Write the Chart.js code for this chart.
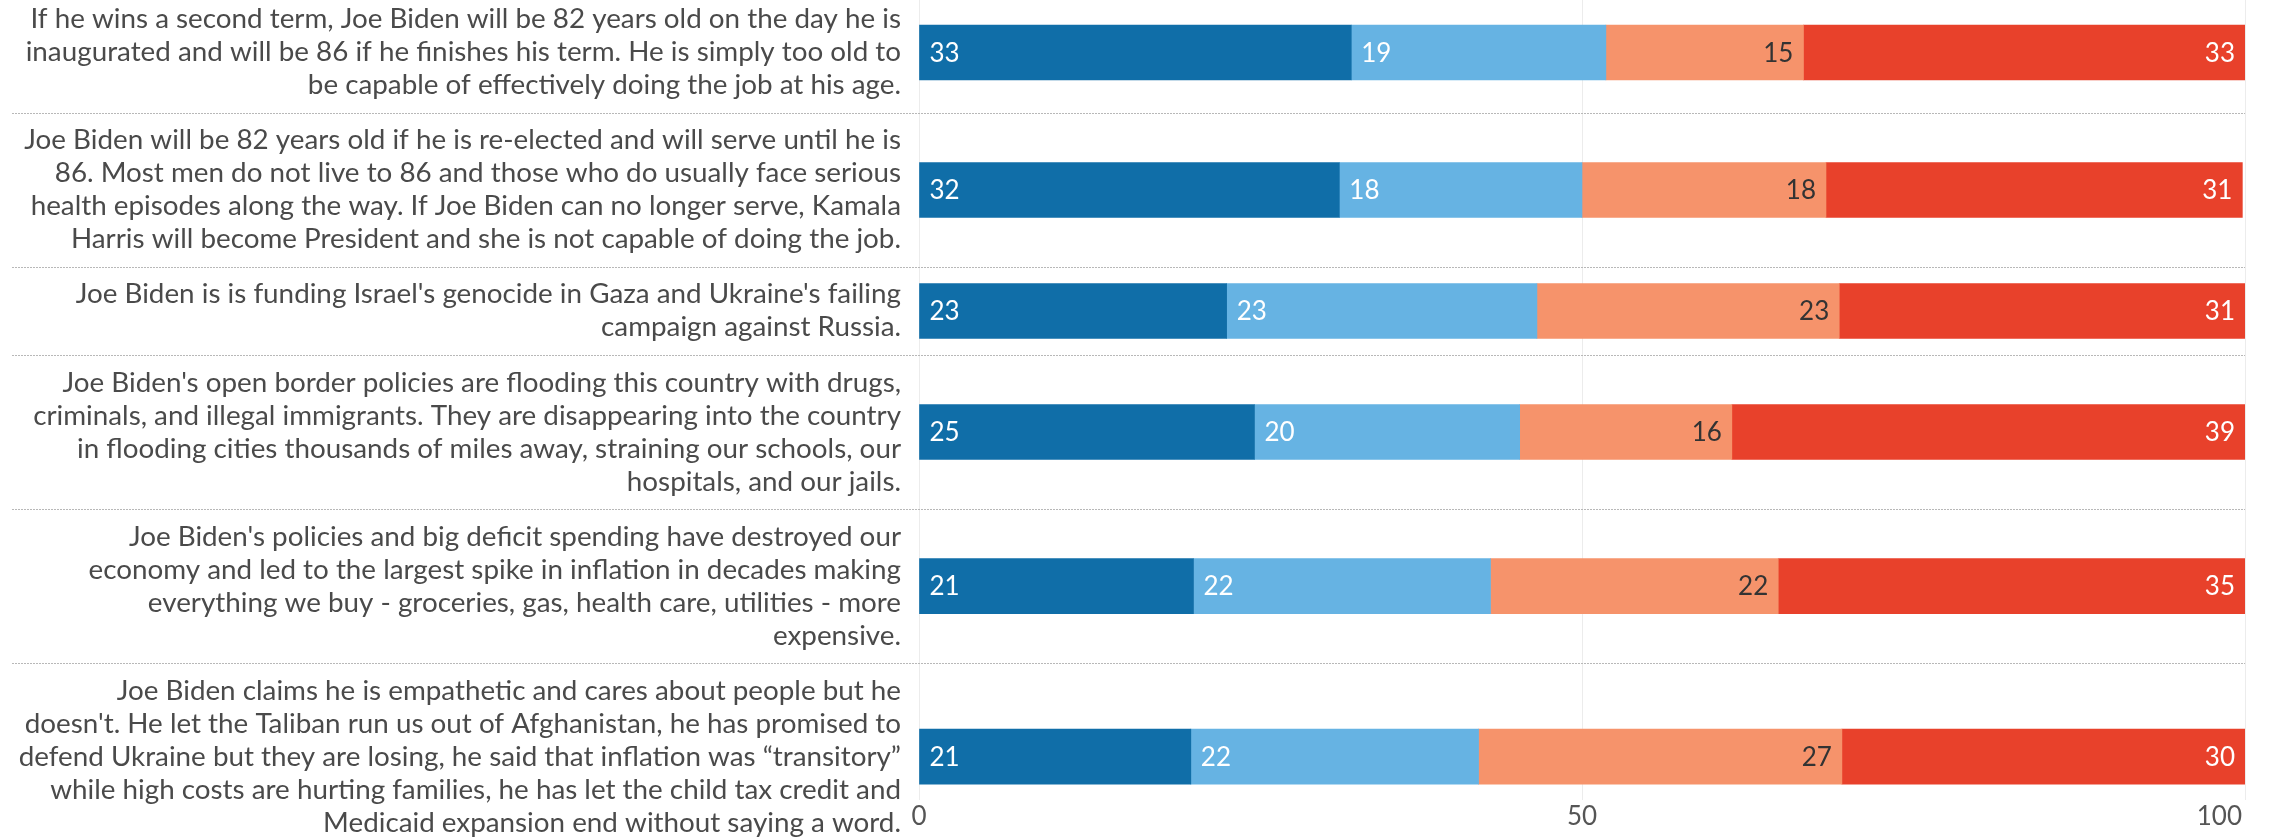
<!DOCTYPE html>
<html><head><meta charset="utf-8">
<script src="https://cdn.jsdelivr.net/npm/chart.js@4/dist/chart.umd.min.js"></script>
<style>html,body{margin:0;padding:0;background:#fff;overflow:hidden}</style>
</head><body>
<canvas id="c" width="2272" height="839"></canvas>
<script>
const categories = [
  ["If he wins a second term, Joe Biden will be 82 years old on the day he is",
   "inaugurated and will be 86 if he finishes his term. He is simply too old to",
   "be capable of effectively doing the job at his age."],
  ["Joe Biden will be 82 years old if he is re-elected and will serve until he is",
   "86. Most men do not live to 86 and those who do usually face serious",
   "health episodes along the way. If Joe Biden can no longer serve, Kamala",
   "Harris will become President and she is not capable of doing the job."],
  ["Joe Biden is is funding Israel's genocide in Gaza and Ukraine's failing",
   "campaign against Russia."],
  ["Joe Biden's open border policies are flooding this country with drugs,",
   "criminals, and illegal immigrants. They are disappearing into the country",
   "in flooding cities thousands of miles away, straining our schools, our",
   "hospitals, and our jails."],
  ["Joe Biden's policies and big deficit spending have destroyed our",
   "economy and led to the largest spike in inflation in decades making",
   "everything we buy - groceries, gas, health care, utilities - more",
   "expensive."],
  ["Joe Biden claims he is empathetic and cares about people but he",
   "doesn't. He let the Taliban run us out of Afghanistan, he has promised to",
   "defend Ukraine but they are losing, he said that inflation was \u201ctransitory\u201d",
   "while high costs are hurting families, he has let the child tax credit and",
   "Medicaid expansion end without saying a word."]
];
const seriesNames = ["Very convincing", "Somewhat convincing", "Not very convincing", "Not at all convincing"];
const seriesA = [32.6, 31.7, 23.2, 25.3, 20.7, 20.5];
const seriesB = [19.2, 18.3, 23.4, 20.0, 22.4, 21.7];
const seriesC = [14.9, 18.4, 22.8, 16.0, 21.7, 27.4];
const seriesD = [33.3, 31.4, 30.6, 38.7, 35.2, 30.4];
const xTickValues = [0, 50, 100];

const COLORS = ["#106ea8", "#66b3e3", "#f6936b", "#e8412b"];
const LABEL_COLORS = ["#ffffff", "#ffffff", "#333333", "#ffffff"];
const FONT = "Lato";

// row layout derived from number of label lines
const ROW_PAD = 0.667;
const rowBounds = [0];
categories.forEach(l => rowBounds.push(rowBounds[rowBounds.length - 1] + l.length + ROW_PAD));
const rowCenters = categories.map((l, i) => (rowBounds[i] + rowBounds[i + 1]) / 2);

const allSeries = [seriesA, seriesB, seriesC, seriesD];
const datasets = allSeries.map((s, k) => ({
  label: seriesNames[k],
  data: s.map((v, i) => ({ x: v, y: rowCenters[i] })),
  backgroundColor: COLORS[k],
  borderWidth: 0,
  barThickness: 55
}));

const separatorPlugin = {
  id: 'separators',
  beforeDatasetsDraw(chart) {
    const ctx = chart.ctx, ys = chart.scales.y, area = chart.chartArea;
    ctx.save();
    ctx.strokeStyle = '#b8b8b8';
    ctx.lineWidth = 1;
    ctx.setLineDash([2, 1]);
    for (let i = 1; i < rowBounds.length - 1; i++) {
      const y = Math.round(ys.getPixelForValue(rowBounds[i])) + 0.5;
      ctx.beginPath();
      ctx.moveTo(12, y);
      ctx.lineTo(area.right, y);
      ctx.stroke();
    }
    ctx.restore();
  }
};

const labelPlugin = {
  id: 'barLabels',
  afterDraw(chart) {
    const ctx = chart.ctx;
    ctx.save();
    ctx.font = '26px ' + FONT;
    ctx.textBaseline = 'middle';
    chart.data.datasets.forEach((ds, k) => {
      const meta = chart.getDatasetMeta(k);
      meta.data.forEach((bar, i) => {
        const v = allSeries[k][i];
        const txt = String(Math.round(v));
        ctx.fillStyle = LABEL_COLORS[k];
        const left = Math.min(bar.x, bar.base), right = Math.max(bar.x, bar.base);
        if (k < 2) { ctx.textAlign = 'left'; ctx.fillText(txt, left + 10, bar.y + 1); }
        else { ctx.textAlign = 'right'; ctx.fillText(txt, right - 10, bar.y + 1); }
      });
    });
    const xs = chart.scales.x, area = chart.chartArea;
    ctx.fillStyle = '#555555';
    xTickValues.forEach(v => {
      ctx.textAlign = v === xs.max ? 'right' : 'center';
      ctx.fillText(String(v), xs.getPixelForValue(v) + (v === xs.max ? -3 : 0), area.bottom + 17);
    });
    ctx.restore();
  }
};

new Chart(document.getElementById('c'), {
  type: 'bar',
  data: { datasets },
  options: {
    indexAxis: 'y',
    responsive: false,
    animation: false,
    devicePixelRatio: 1,
    layout: { padding: { left: 0, right: 27, top: 0, bottom: 39 } },
    plugins: { legend: { display: false }, tooltip: { enabled: false } },
    scales: {
      x: {
        type: 'linear', min: 0, max: 100, stacked: true,
        ticks: { display: false, stepSize: 50 },
        grid: { color: 'rgba(230,230,230,0.75)', drawTicks: false, lineWidth: 1 },
        border: { display: false },
        z: 1,
        afterFit(scale) { scale.paddingLeft = 0; scale.paddingRight = 0; }
      },
      y: {
        type: 'linear', reverse: true, stacked: true, offset: false,
        min: 0.242, max: 24.485,
        afterBuildTicks(scale) { scale.ticks = rowCenters.map(v => ({ value: v })); },
        afterFit(scale) { scale.width = 919; scale.paddingTop = 0; scale.paddingBottom = 0; },
        grid: { display: false, drawTicks: false, offset: false },
        border: { display: false },
        ticks: {
          autoSkip: false, padding: 18, color: '#4a4a4a',
          font: { family: FONT, size: 27.8, lineHeight: '33px' },
          callback: (v, i) => categories[i]
        }
      }
    }
  },
  plugins: [separatorPlugin, labelPlugin]
});
</script>
</body></html>
